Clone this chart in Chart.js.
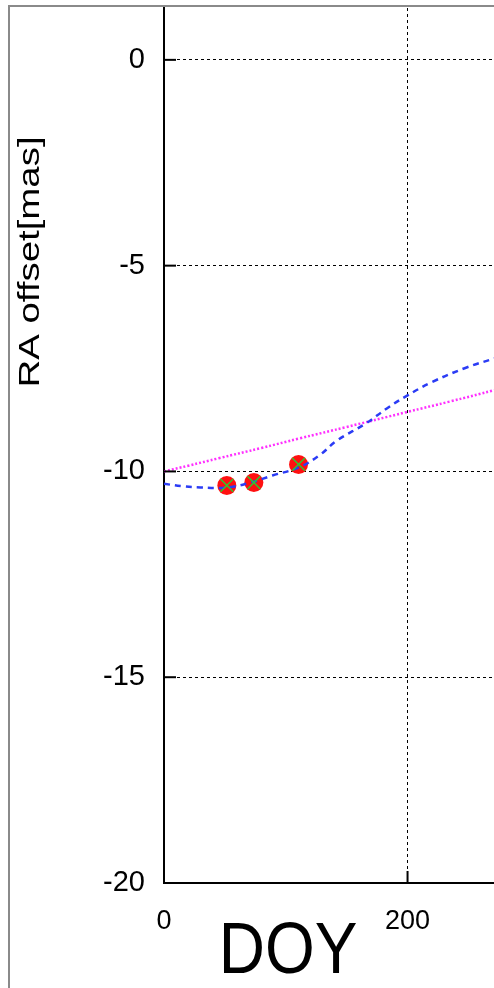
<!DOCTYPE html>
<html lang="en">
<head>
    <meta charset="UTF-8">
    <title>RA offset vs DOY</title>
    <style>
        body {
            margin: 0;
            padding: 0;
            background: #fff;
            overflow: hidden;
        }
        .wrap {
            position: relative;
            width: 494px;
            height: 988px;
        }
        .frame {
            position: absolute;
            left: 8px;
            top: 5px;
            right: -10px;
            bottom: -10px;
            border-left: 2px solid #8a8a8a;
            border-top: 2px solid #8a8a8a;
            pointer-events: none;
        }
    </style>
</head>
<body>
    <div class="wrap">
        <canvas id="raChart" width="494" height="988"></canvas>
        <div class="frame"></div>
    </div>

    <script src="https://cdn.jsdelivr.net/npm/chart.js"></script>
    <script>
        // observed positions (DOY, RA offset in mas)
        var obsDoy = [51.6, 73.8, 110.5];
        var obsRa = [-10.34, -10.27, -9.83];

        // model curve (blue dashed)
        var modelDoy = [0, 15, 30, 52, 70, 89, 111, 128, 142, 166, 183, 199, 220, 248, 272];
        var modelRa = [-10.3, -10.36, -10.39, -10.39, -10.28, -10.1, -9.9, -9.6, -9.25, -8.83, -8.47, -8.17, -7.83, -7.48, -7.25];

        // linear motion (magenta dotted)
        var linDoy = [0, 20, 45, 80, 111, 150, 199, 235, 272];
        var linRa = [-10.0, -9.86, -9.68, -9.43, -9.2, -8.92, -8.56, -8.3, -8.02];

        var xTicks = [0, 200];
        var yTicks = [-20, -15, -10, -5, 0];
        var xTitle = 'DOY';
        var yTitle = 'RA offset[mas]';

        function toPts(xs, ys) {
            return xs.map(function (x, i) { return { x: x, y: ys[i] }; });
        }

        // axis titles and inward tick marks
        var extrasPlugin = {
            id: 'extras',
            afterDraw: function (chart) {
                var c = chart.ctx;
                var xs = chart.scales.x, ys = chart.scales.y;
                c.save();
                c.strokeStyle = '#000';
                c.lineWidth = 2;
                yTicks.forEach(function (v) {
                    var py = ys.getPixelForValue(v);
                    c.beginPath();
                    c.moveTo(xs.left, py);
                    c.lineTo(xs.left + 12, py);
                    c.stroke();
                });
                xTicks.forEach(function (v) {
                    var px = xs.getPixelForValue(v);
                    c.beginPath();
                    c.moveTo(px, ys.bottom);
                    c.lineTo(px, ys.bottom - 12);
                    c.stroke();
                });
                c.fillStyle = '#000';
                c.textAlign = 'center';
                c.textBaseline = 'middle';

                c.save();
                c.translate(31, 262);
                c.rotate(-Math.PI / 2);
                c.scale(1.28, 1);
                c.font = '30px "Liberation Sans", Arial, sans-serif';
                c.fillText(yTitle, 0, 0);
                c.restore();

                c.save();
                c.translate(288, 953);
                c.scale(1, 1.12);
                c.font = '64px "Liberation Sans", Arial, sans-serif';
                c.fillText(xTitle, 0, 0);
                c.restore();
                c.restore();
            }
        };

        var ctx = document.getElementById('raChart').getContext('2d');

        var raChart = new Chart(ctx, {
            type: 'scatter',
            data: {
                datasets: [
                    {
                        label: 'observed',
                        data: toPts(obsDoy, obsRa),
                        pointStyle: 'circle',
                        pointRadius: 9.5,
                        backgroundColor: '#ff1010',
                        borderColor: '#ff1010',
                        borderWidth: 0,
                        order: 4
                    },
                    {
                        label: 'linear',
                        data: toPts(linDoy, linRa),
                        showLine: true,
                        pointRadius: 0,
                        borderColor: '#ff30ff',
                        borderWidth: 2.5,
                        borderDash: [2, 2],
                        tension: 0.4,
                        order: 3
                    },
                    {
                        label: 'model',
                        data: toPts(modelDoy, modelRa),
                        showLine: true,
                        pointRadius: 0,
                        borderColor: '#2b3cf5',
                        borderWidth: 2.5,
                        borderDash: [6, 5],
                        tension: 0.4,
                        order: 2
                    },
                    {
                        label: 'observed x',
                        data: toPts(obsDoy, obsRa),
                        pointStyle: 'crossRot',
                        pointRadius: 9,
                        borderColor: '#2fc82f',
                        borderWidth: 1.5,
                        order: 1
                    }
                ]
            },
            options: {
                responsive: false,
                animation: false,
                devicePixelRatio: 1,
                layout: { autoPadding: false, padding: { left: 0, top: 8, right: 0, bottom: 0 } },
                plugins: {
                    legend: { display: false },
                    tooltip: { enabled: false }
                },
                scales: {
                    x: {
                        type: 'linear',
                        min: 0,
                        max: 271,
                        afterFit: function (s) {
                            s.height = 105;
                            s.paddingLeft = 0;
                            s.paddingRight = 0;
                        },
                        afterBuildTicks: function (s) {
                            s.ticks = xTicks.map(function (v) { return { value: v }; });
                        },
                        ticks: {
                            color: '#000',
                            padding: 22,
                            maxRotation: 0,
                            font: { family: '"Liberation Sans", Arial, sans-serif', size: 27 }
                        },
                        grid: {
                            color: '#000',
                            lineWidth: 1,
                            drawTicks: false
                        },
                        border: { color: '#000', width: 2, dash: [3, 3] }
                    },
                    y: {
                        min: -20,
                        max: 1.26,
                        afterFit: function (s) {
                            s.width = 164;
                            s.paddingTop = 0;
                            s.paddingBottom = 0;
                        },
                        afterBuildTicks: function (s) {
                            s.ticks = yTicks.map(function (v) { return { value: v }; });
                        },
                        ticks: {
                            color: '#000',
                            padding: 19,
                            font: { family: '"Liberation Sans", Arial, sans-serif', size: 29 }
                        },
                        grid: {
                            color: '#000',
                            lineWidth: 1,
                            drawTicks: false
                        },
                        border: { color: '#000', width: 2, dash: [3, 3] }
                    }
                }
            },
            plugins: [extrasPlugin]
        });
    </script>
</body>
</html>
